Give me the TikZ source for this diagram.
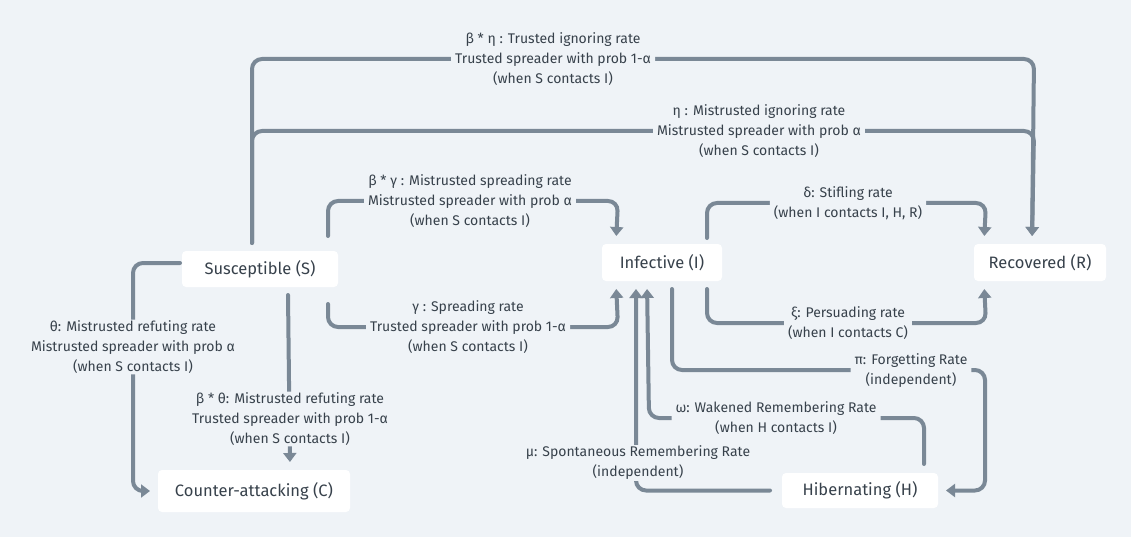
\documentclass[tikz,border=0pt]{standalone}
\usepackage{fontspec}
\setmainfont{Fira Sans}
\usepackage{tikz}
\usetikzlibrary{arrows.meta}
\definecolor{bg}{HTML}{EFF3F7}
\definecolor{wire}{HTML}{7A8896}
\definecolor{ink}{HTML}{37414B}

\begin{document}
\begin{tikzpicture}[x = 1pt, y = -1pt, line width = 4pt,
  box/.style = {fill = white, rounded corners = 4pt, inner sep = 0pt, text = ink, font = \fontsize{16.5}{19}\selectfont},
  lbl/.style = {fill = bg, text = ink, align = center, inner xsep = 4pt, inner ysep = 1pt, font = \fontsize{14}{20}\selectfont},
  link/.style = {draw = wire, rounded corners = 10pt, line cap = round, shorten > = 6pt, -{Triangle[width = 13pt, length = 9pt]}}]
\fill[bg] (0,0) rectangle (1131,537);
\useasboundingbox (0,0) rectangle (1131,537);
\draw (260,269) node[box, minimum width = 156pt, minimum height = 36pt](S){Susceptible (S)}
    (662,262.5) node[box, minimum width = 120pt, minimum height = 37pt](I){Infective (I)}
    (1040,262.5) node[box, minimum width = 132pt, minimum height = 37pt](R){Recovered (R)}
    (254,491) node[box, minimum width = 192pt, minimum height = 42pt](C){Counter-attacking (C)}
    (860,490.5) node[box, minimum width = 156pt, minimum height = 35pt](H){Hibernating (H)};
    \draw [link] ([xshift = 72pt, yshift = 6pt]S.north west) |- (1034,59) -- ([xshift = 60pt]R.north west)
        node[lbl] at (553,59) {β * η : Trusted ignoring rate\\Trusted spreader with prob 1-α\\(when S contacts I)};
    \draw [link] ([xshift = 72pt, yshift = 6pt]S.north west) |- (1034,131) -- ([xshift = 60pt]R.north west)
        node[lbl] at (759,131) {η : Mistrusted ignoring rate\\Mistrusted spreader with prob α\\(when S contacts I)};
    \draw [link] ([xshift = 148pt, yshift = 13pt]S.north west) |- (618,201) -- ([xshift = 16pt]I.north west)
        node[lbl] at (470,201) {β * γ : Mistrusted spreading rate\\Mistrusted spreader with prob α\\(when S contacts I)};
    \draw [link] ([xshift = 148pt, yshift = -15pt]S.south west) |- (618,327) -- ([xshift = 16pt]I.south west)
        node[lbl] at (468,327) {γ : Spreading rate\\Trusted spreader with prob 1-α\\(when S contacts I)};
    \draw [link] ([yshift = 6pt]S.west) -| (133,491) -- (C.west)
        node[lbl] at (133,347) {θ: Mistrusted refuting rate\\Mistrusted spreader with prob α\\(when S contacts I)};
    \draw [link] ([xshift = 108pt, yshift = -6pt]S.south west) -- ([xshift = 36pt]C.north)
        node[lbl] at (290,419) {β * θ: Mistrusted refuting rate\\Trusted spreader with prob 1-α\\(when S contacts I)};
    \draw [link] ([xshift = 107pt, yshift = 4pt]I.north west) |- (986,203) -- ([xshift = 12pt]R.north west)
        node[lbl] at (848,203) {δ: Stifling rate\\(when I contacts I, H, R)};
    \draw [link] ([xshift = 107pt, yshift = -6pt]I.south west) |- (986,323) -- ([xshift = 12pt]R.south west)
        node[lbl] at (848,323) {ξ: Persuading rate\\(when I contacts C)};
    \draw [link] ([xshift = 72pt, yshift = -6pt]I.south west) |- (985,370) |- (H.east)
        node[lbl] at (911,371) {π: Forgetting Rate\\(independent)};
    \draw [link] ([xshift = 144pt, yshift = 7pt]H.north west) |- (649,418) -- ([xshift = 47pt]I.south west)
        node[lbl] at (776,418) {ω: Wakened Remembering Rate\\(when H contacts I)};
    \draw [link] ([xshift = -10pt]H.west) -| ([xshift = 36pt]I.south west)
        node[lbl] at (638,463) {μ: Spontaneous Remembering Rate\\(independent)};
\end{tikzpicture}
\end{document}
